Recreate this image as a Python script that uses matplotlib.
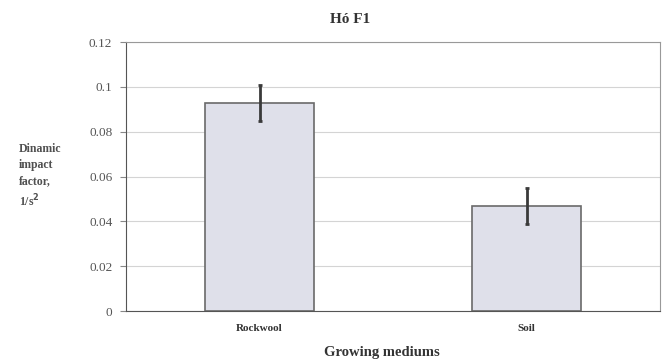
import matplotlib.pyplot as plt

# Dynamic impact factor by growing medium
mediums = ['Rockwool', 'Soil']
impact = [0.093, 0.0467]
impact_err = [0.008, 0.008]
yticks = [0, 0.02, 0.04, 0.06, 0.08, 0.1, 0.12]
ytick_labels = ['0', '0.02', '0.04', '0.06', '0.08', '0.1', '0.12']

plt.rcParams['font.family'] = ['Liberation Serif', 'DejaVu Serif']

fig = plt.figure(figsize=(6.64, 3.63), dpi=100)
ax = fig.add_axes([0.19, 0.143, 0.804, 0.741])

x = range(len(mediums))
ax.bar(x, impact, width=0.41, color='#dfe0ea', edgecolor='#6a6a6a', linewidth=1.2, zorder=2)
ax.errorbar(x, impact, yerr=impact_err, fmt='none', ecolor='#3a3a3a',
            elinewidth=2, capsize=1.5, capthick=2, zorder=3)

ax.set_xlim(-0.5, 1.5)
ax.set_ylim(0, 0.12)
ax.set_yticks(yticks)
ax.set_yticklabels(ytick_labels, fontsize=9.5, color='#555555')
ax.set_xticks(list(x))
ax.set_xticklabels(mediums, fontsize=8, fontweight='bold', color='#333333')
ax.tick_params(axis='x', length=0, pad=9)
ax.tick_params(axis='y', length=4, color='#888888', pad=6)
ax.grid(axis='y', color='#d4d4d4', linewidth=0.8, zorder=0)

for side in ['left', 'bottom']:
    ax.spines[side].set_color('#555555')
for side in ['top', 'right']:
    ax.spines[side].set_color('#999999')

fig.text(0.527, 0.945, 'Hó F1', ha='center', va='center', fontsize=11, fontweight='bold', color='#333333')
fig.text(0.575, 0.03, 'Growing mediums', ha='center', va='center', fontsize=10.5, fontweight='bold', color='#333333')
fig.text(0.028, 0.515, 'Dinamic\nimpact\nfactor,\n1/s$^\\mathbf{2}$', ha='left', va='center', fontsize=8.5,
         fontweight='bold', color='#505050', linespacing=1.45)

fig.savefig('out.png', dpi=100)
